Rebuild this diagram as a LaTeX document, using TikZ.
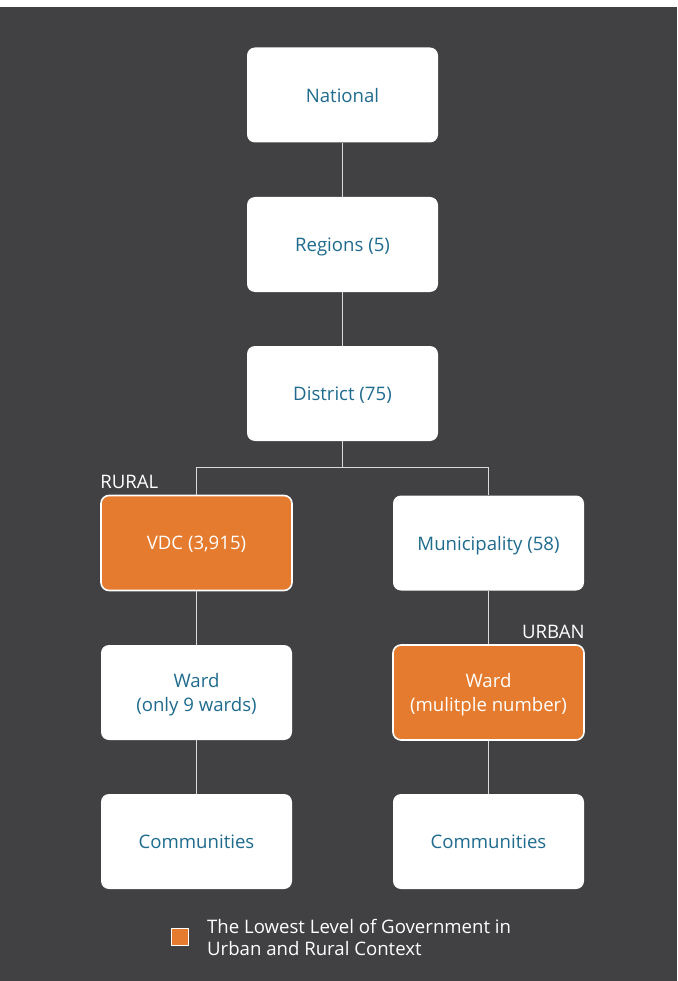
\documentclass[tikz,border=0pt]{standalone}
\usepackage{fontspec}
\setmainfont{Open Sans}
\definecolor{bgdark}{HTML}{414042}
\definecolor{boxblue}{HTML}{1F6B8E}
\definecolor{lowest}{HTML}{E57B2E}
\definecolor{linkgray}{HTML}{D9D9D9}
\begin{document}
\begin{tikzpicture}[x=1pt,y=-1pt,
  level/.style={fill=white, rounded corners=8pt, minimum width=191pt, minimum height=95pt,
    text=boxblue, font=\fontsize{18.6}{24}\selectfont, align=center, inner sep=0pt, text depth=0pt},
  lowlevel/.style={level, fill=lowest, draw=white, line width=1.6pt, text=white},
  link/.style={draw=linkgray, line width=1pt},
  tag/.style={text=white, font=\fontsize{18.6}{22}\selectfont, inner sep=0pt}]
  % page: white strip on top, dark panel below
  \useasboundingbox (0,0) rectangle (677,981);
  \fill[white] (0,0) rectangle (677,7);
  \fill[bgdark] (0,7) rectangle (677,981);

  % hierarchy boxes
  \node[level] (nat) at (342.5,95) {National};
  \node[level] (reg) at (342.5,244.5) {Regions (5)};
  \node[level] (dis) at (342.5,393.5) {District (75)};
  \node[lowlevel] (vdc) at (196.5,543) {VDC (3,915)};
  \node[level] (mun) at (488.5,543) {Municipality (58)};
  \node[level] (wl) at (196.5,692.5) {Ward\\(only 9 wards)};
  \node[lowlevel] (wr) at (488.5,692.5) {Ward\\(mulitple number)};
  \node[level] (cl) at (196.5,841.5) {Communities};
  \node[level] (cr) at (488.5,841.5) {Communities};

  % connectors
  \coordinate (fork) at (342.5,467);
  \draw[link] (nat) -- (reg);
  \draw[link] (reg) -- (dis);
  \draw[link] (dis) -- (fork);
  \draw[link] (fork) -| (vdc.north);
  \draw[link] (fork) -| (mun.north);
  \draw[link] (vdc) -- (wl);
  \draw[link] (wl) -- (cl);
  \draw[link] (mun) -- (wr);
  \draw[link] (wr) -- (cr);

  % context tags
  \node[tag, anchor=base west] (rural) at ([yshift=6pt]vdc.north west) {RURAL};
  \node[tag, anchor=base east] (urban) at ([yshift=6pt]wr.north east) {URBAN};

  % legend
  \node[fill=lowest, draw=white, line width=0.8pt, minimum size=17pt, inner sep=0pt] (key) at (180,937) {};
  \node[anchor=west, text=white, font=\fontsize{18.6}{21.5}\selectfont, align=left, inner sep=0pt] (keytext) at (207,937.5)
    {The Lowest Level of Government in\\Urban and Rural Context};
\end{tikzpicture}
\end{document}
